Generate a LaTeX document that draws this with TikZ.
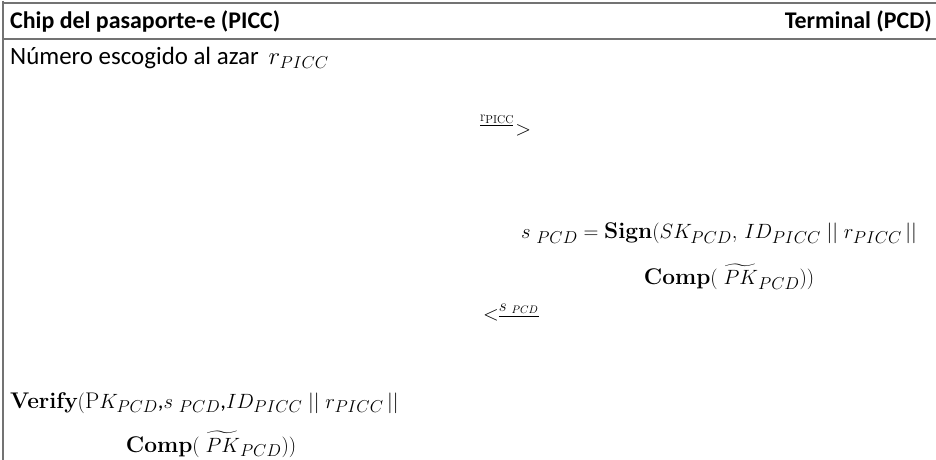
\documentclass[tikz,border=0pt]{standalone}
\usepackage{amsmath}
\usepackage{fontspec}
\setmainfont{Carlito}
\newfontfamily\opfont{Latin Modern Roman}
\newcommand{\opname}[1]{\text{\opfont\bfseries #1}}
\newcommand{\upsym}[1]{\text{\opfont #1}}
\begin{document}
\begin{tikzpicture}[x=1bp,y=-1bp,
  tablerule/.style={draw=black!55,line width=1.6bp},
  headtext/.style={font=\fontsize{24}{28}\selectfont\bfseries,inner sep=0pt},
  bodytext/.style={font=\fontsize{25}{29}\selectfont,inner sep=0pt},
  mathtext/.style={font=\fontsize{22.75}{27}\selectfont,inner sep=0pt}]
\useasboundingbox (0,0) rectangle (936,460);
\fill[white] (0,0) rectangle (936,460);
% table frame, open at the right and at the bottom
\draw[tablerule] (3,3) -- (940,3);
\draw[tablerule] (3,39) -- (940,39);
\draw[tablerule] (3,1) -- (3,465);
% column headers
\node[headtext,anchor=base west] (picc) at (10,29) {Chip del pasaporte-e (PICC)};
\node[headtext,anchor=base east] (pcd) at (932,29) {Terminal (PCD)};
% step 1: random number on the chip
\node[bodytext,anchor=base west] (rand) at (10,65) {Número escogido al azar \,{\fontsize{23}{27}\selectfont$r_{PICC}$}};
% message chip -> terminal
\node[mathtext,anchor=base west] (msg1) at (480,136)
  {\raisebox{1.3ex}{\opfont\fontsize{15}{15}\selectfont
     \underline{r\raisebox{-0.25ex}{\fontsize{11.5}{12}\selectfont PICC}}}\kern2bp$>$};
% step 2: terminal signs
\node[mathtext,anchor=base] (sign1) at (719,239)
  {$s\;{}_{PCD}=\opname{Sign}(SK_{PCD},\,ID_{PICC}\;||\;r_{PICC}\,||$};
\node[mathtext,anchor=base] (sign2) at (729,285)
  {$\opname{Comp}(\;\widetilde{PK}_{PCD}))$};
% message terminal -> chip
\node[mathtext,anchor=base west] (msg2) at (483,321)
  {${<}\raisebox{0.9ex}{$\scriptstyle\underline{s\;{}_{PCD}}$}$};
% step 3: chip verifies
\node[mathtext,anchor=base west] (ver1) at (10,408)
  {$\opname{Verify}(\upsym{P}K_{PCD}\text{,}s\;{}_{PCD}\text{,}ID_{PICC}\;||\;r_{PICC}\,||$};
\node[mathtext,anchor=base] (ver2) at (211,452)
  {$\opname{Comp}(\;\widetilde{PK}_{PCD}))$};
\end{tikzpicture}
\end{document}
